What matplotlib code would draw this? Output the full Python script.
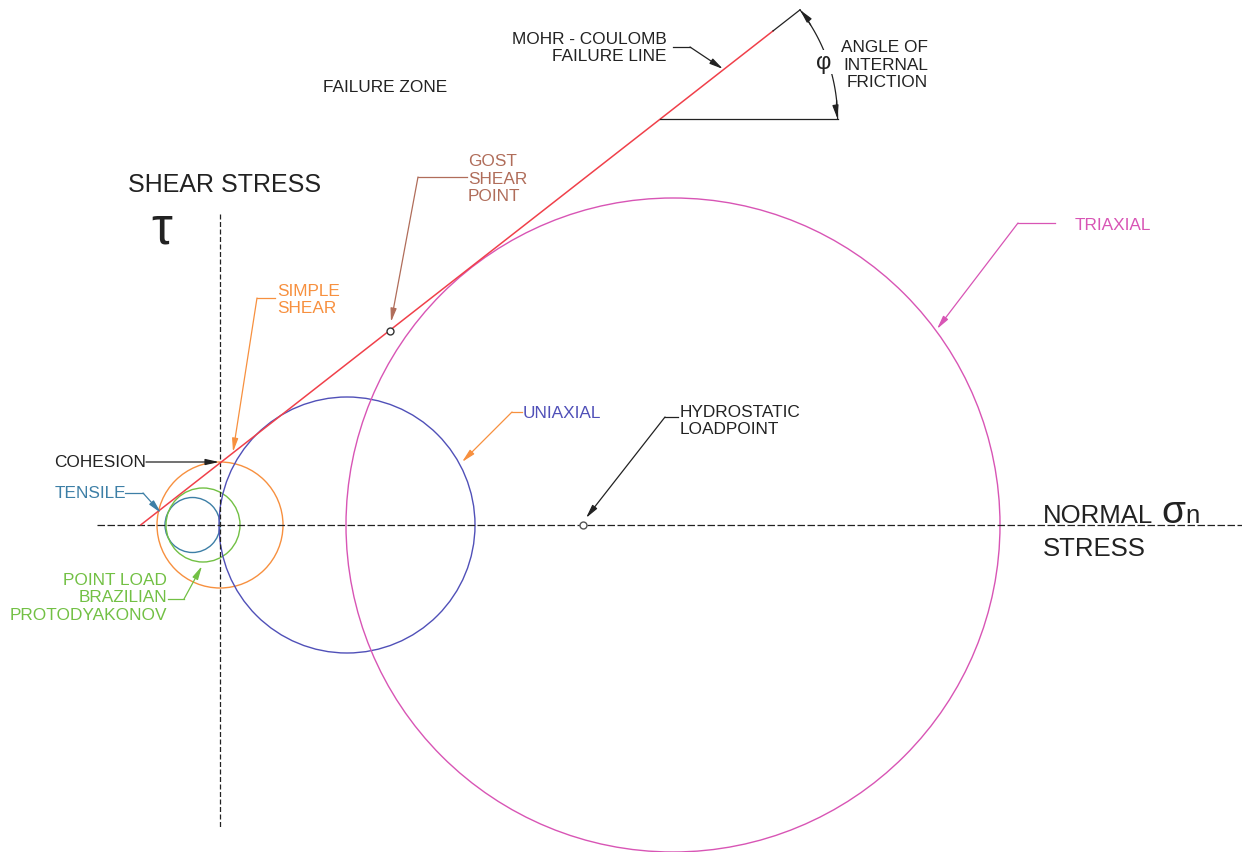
import numpy as np
import matplotlib.pyplot as plt
from matplotlib.patches import Circle

plt.rcParams['font.family'] = ['Liberation Sans', 'DejaVu Sans']

# Mohr circles: (name, centre on normal stress axis, radius, colour)
circle_names = ['TENSILE', 'POINT LOAD', 'SIMPLE SHEAR', 'UNIAXIAL', 'TRIAXIAL']
circle_centres = [-27.5, -17, 0, 127, 453]
circle_radii = [27.5, 37, 63, 128, 327]
circle_colors = ['#3d7fa6', '#72c044', '#f7903f', '#5050b8', '#d855b5']

# Mohr-Coulomb failure line
cohesion = 62
friction_angle = 38.0  # degrees
line_sigma = [-79, 553]       # red part
line_sigma_ext = [553, 580]   # black extension to angle mark

gost_point = (170, 194)
hydro_point = (363, 0)

txt = '#222222'


def linha(s):
    return cohesion + np.tan(np.radians(friction_angle)) * np.asarray(s)


def leader(pts, color, lw=0.9):
    # polyline with filled arrow at the last point
    xs = [p[0] for p in pts]
    ys = [p[1] for p in pts]
    if len(pts) > 2:
        ax.plot(xs[:-1], ys[:-1], color=color, lw=lw)
    ax.annotate('', xy=pts[-1], xytext=pts[-2],
                arrowprops=dict(arrowstyle='-|>,head_length=0.8,head_width=0.18',
                                color=color, lw=lw, shrinkA=0, shrinkB=0,
                                mutation_scale=10))


fig = plt.figure(figsize=(12.42, 8.53), dpi=100)
ax = fig.add_axes([0, 0, 1, 1])
ax.set_xlim(-220, 1022)
ax.set_ylim(-327, 526)
ax.set_aspect('equal')
ax.axis('off')

# eixos
ax.plot([-123, 1022], [0, 0], color='#222222', lw=0.9, ls=(0, (6, 2)))
ax.plot([0, 0], [311, -304], color='#222222', lw=0.9, ls=(0, (4, 2)))

# circulos
for c, r, col in zip(circle_centres, circle_radii, circle_colors):
    ax.add_patch(Circle((c, 0), r, fill=False, ec=col, lw=1.0))

# linha de Mohr-Coulomb
ax.plot(line_sigma, linha(line_sigma), color='#f0404a', lw=1.1)
ax.plot(line_sigma_ext, linha(line_sigma_ext), color='#222222', lw=0.9)

# angulo de atrito
apex_tau = 406
apex_sigma = (apex_tau - cohesion) / np.tan(np.radians(friction_angle))
R = np.hypot(line_sigma_ext[1] - apex_sigma, linha(line_sigma_ext[1]) - apex_tau)
ax.plot([apex_sigma, apex_sigma + R], [apex_tau, apex_tau], color='#222222', lw=0.9)
th = np.radians(np.linspace(0, friction_angle, 80))
ax.plot(apex_sigma + R * np.cos(th), apex_tau + R * np.sin(th), color='#222222', lw=0.9)
for t0, t1 in [(np.radians(6), 0.0), (np.radians(friction_angle - 6), np.radians(friction_angle))]:
    ax.annotate('', xy=(apex_sigma + R * np.cos(t1), apex_tau + R * np.sin(t1)),
                xytext=(apex_sigma + R * np.cos(t0), apex_tau + R * np.sin(t0)),
                arrowprops=dict(arrowstyle='-|>,head_length=0.8,head_width=0.18',
                                color='#222222', lw=0.9, shrinkA=0, shrinkB=0,
                                mutation_scale=10, connectionstyle='arc3,rad=0.05'))
ax.text(604, 463, 'φ', fontsize=17, color=txt, ha='center', va='center',
        bbox=dict(fc='white', ec='none', pad=1))

# pontos
ax.plot(*gost_point, marker='o', ms=5, mfc='white', mec='#333333', mew=1.0)
ax.plot(*hydro_point, marker='o', ms=5, mfc='white', mec='#555555', mew=1.0)

# textos
fs = 12.4
ax.text(103, 439, 'FAILURE ZONE', fontsize=fs, color=txt, ha='left', va='center')
ax.text(447, 478, 'MOHR - COULOMB\nFAILURE LINE', fontsize=fs, color=txt,
        ha='right', va='center', multialignment='right')
leader([(453, 478), (470, 478), (503, 456)], '#222222')
ax.text(708, 461, 'ANGLE OF\nINTERNAL\nFRICTION', fontsize=fs, color=txt,
        ha='right', va='center', multialignment='right')

ax.text(-92, 341, 'SHEAR STRESS', fontsize=18, color=txt, ha='left', va='center')
ax.text(-58, 297, 'τ', fontsize=38, color=txt, ha='center', va='center')

ax.text(823, 3, 'NORMAL', fontsize=18.5, color=txt, ha='left', va='baseline')
ax.text(941, 3, 'σ', fontsize=28, color=txt, ha='left', va='baseline')
ax.text(965, 3, 'n', fontsize=18.5, color=txt, ha='left', va='baseline')
ax.text(823, -30, 'STRESS', fontsize=18.5, color=txt, ha='left', va='baseline')

ax.text(248, 347, 'GOST\nSHEAR\nPOINT', fontsize=fs, color='#b06d5a', ha='left', va='center')
leader([(247, 348), (198, 348), (171, 203)], '#b06d5a')

ax.text(57, 226, 'SIMPLE\nSHEAR', fontsize=fs, color=circle_colors[2], ha='left', va='center')
leader([(55, 227), (37, 227), (13, 73)], circle_colors[2])

ax.text(-74, 63, 'COHESION', fontsize=fs, color=txt, ha='right', va='center')
leader([(-74, 63), (-1, 63)], '#222222')

ax.text(-165, 32, 'TENSILE', fontsize=fs, color=circle_colors[0], ha='left', va='center')
leader([(-95, 32), (-77, 32), (-59, 12)], circle_colors[0])

ax.text(-53, -72, 'POINT LOAD\nBRAZILIAN\nPROTODYAKONOV', fontsize=fs, color=circle_colors[1],
        ha='right', va='center', multialignment='right')
leader([(-52, -74), (-36, -74), (-18, -41)], circle_colors[1])

ax.text(303, 113, 'UNIAXIAL', fontsize=fs, color=circle_colors[3], ha='left', va='center')
leader([(302, 113), (292, 113), (242, 63)], circle_colors[2])

ax.text(460, 105, 'HYDROSTATIC\nLOADPOINT', fontsize=fs, color=txt, ha='left', va='center')
leader([(458, 108), (445, 108), (366, 7)], '#222222')

ax.text(855, 301, 'TRIAXIAL', fontsize=fs, color=circle_colors[4], ha='left', va='center')
leader([(835, 302), (798, 302), (717, 196)], circle_colors[4])

fig.savefig('out.png', dpi=100, facecolor='white')
